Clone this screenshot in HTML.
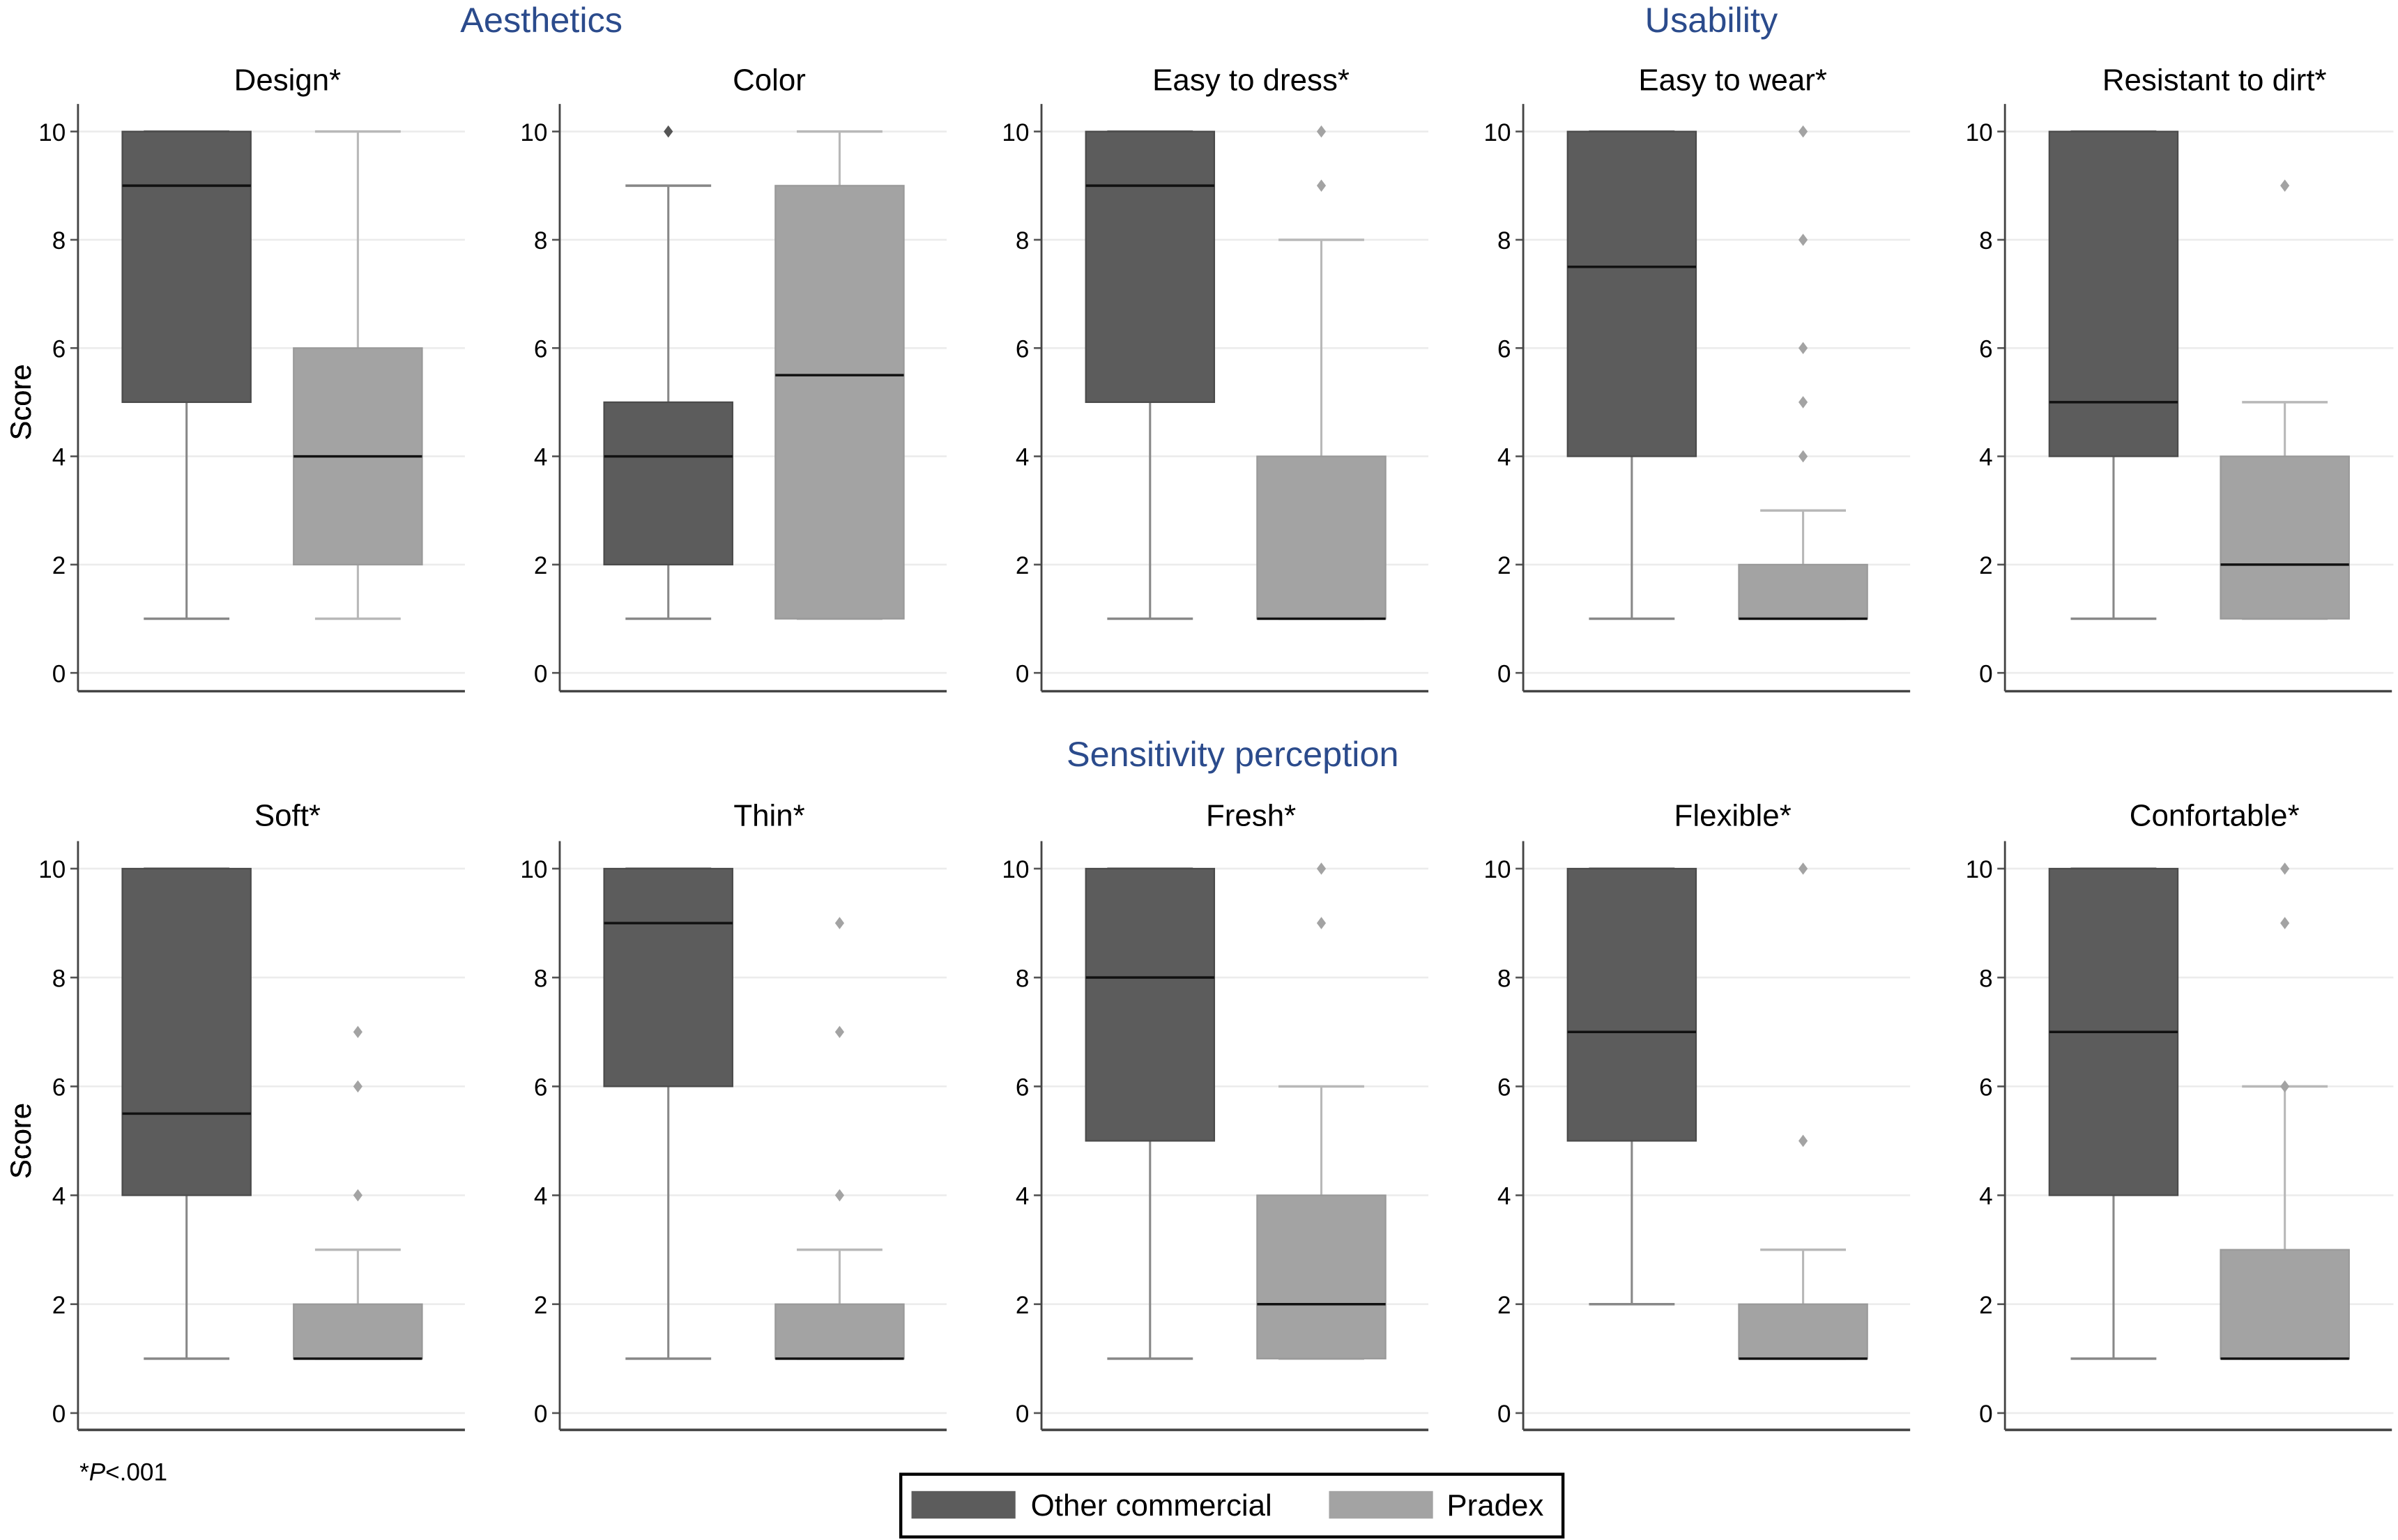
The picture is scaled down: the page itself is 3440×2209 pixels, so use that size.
<!DOCTYPE html>
<html><head><meta charset="utf-8"><style>
html,body{margin:0;padding:0;background:#fff;}
svg{display:block;font-family:"Liberation Sans",Arial,sans-serif;}
</style></head><body>
<svg id="chart" width="3440" height="2209" viewBox="0 0 1568 1007" preserveAspectRatio="none" xmlns="http://www.w3.org/2000/svg">
<text x="354" y="21" text-anchor="middle" font-size="23" fill="#2b4b8c">Aesthetics</text>
<text x="1119" y="21" text-anchor="middle" font-size="23" fill="#2b4b8c">Usability</text>
<text x="806" y="501" text-anchor="middle" font-size="23" fill="#2b4b8c">Sensitivity perception</text>
<text x="52" y="968" font-size="16">*<tspan font-style="italic">P</tspan>&lt;.001</text>
<g>
<rect x="589" y="964" width="433" height="41" fill="#fff" stroke="#000" stroke-width="2"/>
<rect x="596" y="975" width="68" height="18" fill="#5c5c5c"/>
<text x="674" y="991" font-size="20">Other commercial</text>
<rect x="869" y="975" width="68" height="18" fill="#a3a3a3"/>
<text x="946" y="991" font-size="20">Pradex</text>
</g>
</svg>
<script>
const titles = ["Design*","Color","Easy to dress*","Easy to wear*","Resistant to dirt*","Soft*","Thin*","Fresh*","Flexible*","Confortable*"];
// [min, q1, median, q3, max]
const otherStats = [[1,5,9,10,10],[1,2,4,5,9],[1,5,9,10,10],[1,4,7.5,10,10],[1,4,5,10,10],[1,4,5.5,10,10],[1,6,9,10,10],[1,5,8,10,10],[2,5,7,10,10],[1,4,7,10,10]];
const otherOutliers = [[],[10],[],[],[],[],[],[],[],[]];
const pradexStats = [[1,2,4,6,10],[1,1,5.5,9,10],[1,1,1,4,8],[1,1,1,2,3],[1,1,2,4,5],[1,1,1,2,3],[1,1,1,2,3],[1,1,2,4,6],[1,1,1,2,3],[1,1,1,3,6]];
const pradexOutliers = [[],[],[9,10],[4,5,6,8,10],[9],[4,6,7],[4,7,9],[9,10],[5,10],[6,9,10]];
const yTicks = [0,2,4,6,8,10];

const NS="http://www.w3.org/2000/svg";
const svg=document.getElementById('chart');
function mk(tag,attrs,parent){const e=document.createElementNS(NS,tag);for(const k in attrs)e.setAttribute(k,attrs[k]);(parent||svg).appendChild(e);return e;}
const axisX=[51,366,681,996,1311];
const rows=[{y10:86,y0:440,base:452,title:59},{y10:568,y0:924,base:935,title:540}];

titles.forEach((t,i)=>{
  const r=rows[Math.floor(i/5)], ax=axisX[i%5];
  const g=mk('g',{});
  
  
  const ys=v=>r.y0-(r.y0-r.y10)*v/10;
  const right = (i%5===4)?1565:ax+253;
  yTicks.forEach(v=>{
    const gl=mk('line',{x1:ax,x2:right,y1:ys(v),y2:ys(v),stroke:'#ececec','stroke-width':1.2},g);
    
    
    mk('line',{x1:ax-5,x2:ax,y1:ys(v),y2:ys(v),stroke:'#555','stroke-width':1.2},g);
    const tl=mk('text',{x:ax-8,y:ys(v)+6,'text-anchor':'end','font-size':16},g);
    tl.textContent=v;
    
    
  });
  mk('line',{x1:ax,x2:ax,y1:r.y10-18,y2:r.base,stroke:'#444','stroke-width':1.3},g);
  mk('line',{x1:ax,x2:ax+253,y1:r.base,y2:r.base,stroke:'#444','stroke-width':1.6},g);
  const yl=mk('text',{x:0,y:0,'text-anchor':'middle','font-size':19,transform:`translate(20,${(r.y0+r.y10)/2}) rotate(-90)`},g);
  yl.textContent='Score';
  
  
  const tt=mk('text',{x:ax+137,y:r.title,'text-anchor':'middle','font-size':20},g);
  tt.textContent=t;
  
  
  [[otherStats[i],otherOutliers[i],29,'#5c5c5c','#888','other'],[pradexStats[i],pradexOutliers[i],141,'#a3a3a3','#b8b8b8','pradex']].forEach(([s,o,off,fill,wc,name])=>{
    const x0=ax+off, w=84, cx=x0+w/2;
    const bg=mk('g',{},g);
    
    
    mk('line',{x1:cx,x2:cx,y1:ys(s[0]),y2:ys(s[1]),stroke:wc,'stroke-width':1.4},bg);
    mk('line',{x1:cx,x2:cx,y1:ys(s[3]),y2:ys(s[4]),stroke:wc,'stroke-width':1.4},bg);
    mk('line',{x1:cx-28,x2:cx+28,y1:ys(s[0]),y2:ys(s[0]),stroke:wc,'stroke-width':1.6},bg);
    mk('line',{x1:cx-28,x2:cx+28,y1:ys(s[4]),y2:ys(s[4]),stroke:wc,'stroke-width':1.6},bg);
    mk('rect',{x:x0,y:ys(s[3]),width:w,height:Math.max(ys(s[1])-ys(s[3]),0.5),fill:fill,stroke:name==='other'?'#4a4a4a':'#999','stroke-width':1},bg);
    mk('line',{x1:x0,x2:x0+w,y1:ys(s[2]),y2:ys(s[2]),stroke:'#111','stroke-width':1.6},bg);
    o.forEach(v=>{
      const yy=ys(v);
      const d=mk('path',{d:`M${cx} ${yy-4}L${cx+3} ${yy}L${cx} ${yy+4}L${cx-3} ${yy}Z`,fill:name==='other'?'#555':'#a3a3a3'},bg);
      
      
    });
  });
});
</script>
</body></html>
